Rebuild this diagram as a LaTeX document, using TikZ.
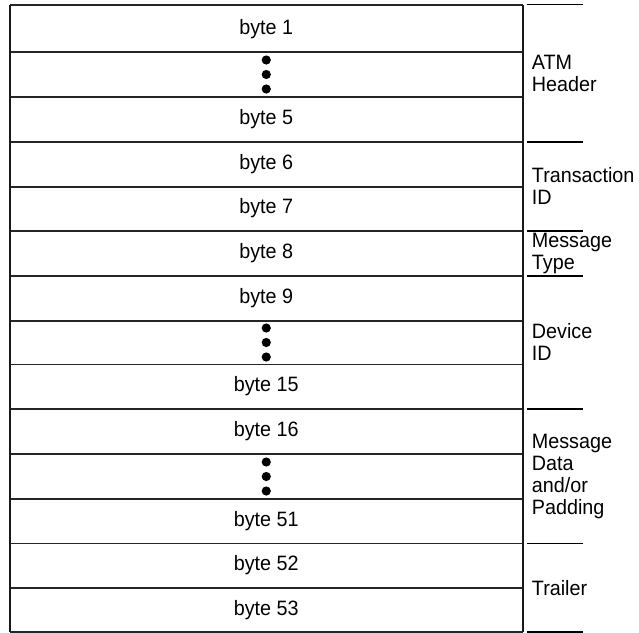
\documentclass[tikz,border=0pt]{standalone}
\usepackage{fontspec}
\setmainfont{Liberation Sans}[FakeStretch=0.95]
\usepackage{tikz}
\usetikzlibrary{calc}
\usetikzlibrary{positioning}

\tikzset{
  byterow/.style={minimum width=512.5pt, inner sep=0pt},
  rowline/.style={draw=black!85, line width=1.8pt},
  border/.style={draw=black!90, line width=2.1pt},
  groupline/.style={draw=black, line width=1.7pt},
  grouplabel/.style={anchor=west, inner sep=0pt, align=left}
}

\begin{document}
\begin{tikzpicture}[x=1pt, y=-1pt, font=\fontsize{20.8}{22}\selectfont] % ATM cell layout

  \useasboundingbox (0,0) rectangle (639,632);

  % the 14 rows of the cell
  \foreach \ya/\yb/\txt [count=\i] in {5.5/52/byte 1, 52/97/{}, 97/141.5/byte 5,
      141.5/186.5/byte 6, 186.5/230.7/byte 7, 230.7/276/byte 8, 276/320.7/byte 9,
      320.7/364.3/{}, 364.3/408.7/byte 15, 408.7/454/byte 16, 454/499/{},
      499/543.3/byte 51, 543.3/587.5/byte 52, 587.5/632/byte 53}
    \node [byterow, minimum height={(\yb-\ya)*1pt}] (row\i) at (266.25, {(\ya+\yb)/2}) {\txt};

  \draw [rowline] (row1.north west) -- (row1.north east);
  \foreach \i in {1,...,14}
    \draw [rowline] (row\i.south west) -- (row\i.south east);
  \draw [border] (row1.north west) -- (row14.south west);
  \draw [border] (row1.north east) -- (row14.south east);

  % skipped bytes
  \foreach \r in {2,8,11}
    \foreach \d in {-14.5,0,14.5}
      \fill ($(row\r.center)+(0,\d)$) circle (4.6pt);

  % field labels
  \node [grouplabel] (hdr) at ($(row1.north east)!0.5!(row3.south east)+(9,0)$) {ATM\\Header};
  \node [grouplabel] (tid) at ($(row4.north east)!0.5!(row5.south east)+(9,0)$) {Transaction\\ID};
  \node [grouplabel] (mtype) at ($(row6.north east)!0.5!(row6.south east)+(9,0)$) {Message\\Type};
  \node [grouplabel] (dev) at ($(row7.north east)!0.5!(row9.south east)+(9,0)$) {Device\\ID};
  \node [grouplabel] (data) at ($(row10.north east)!0.5!(row12.south east)+(9,0)$) {Message\\Data\\and/or\\Padding};
  \node [grouplabel] (trl) at ($(row13.north east)!0.5!(row14.south east)+(9,0)$) {Trailer};

  % field boundaries
  \draw [groupline] ($(row1.north east)+(4,-0.8)$) -- ++(56,0);
  \foreach \r in {3,5,6,9,12,14}
    \draw [groupline] ($(row\r.south east)+(4,0)$) -- ++(56,0);

\end{tikzpicture}
\end{document}
